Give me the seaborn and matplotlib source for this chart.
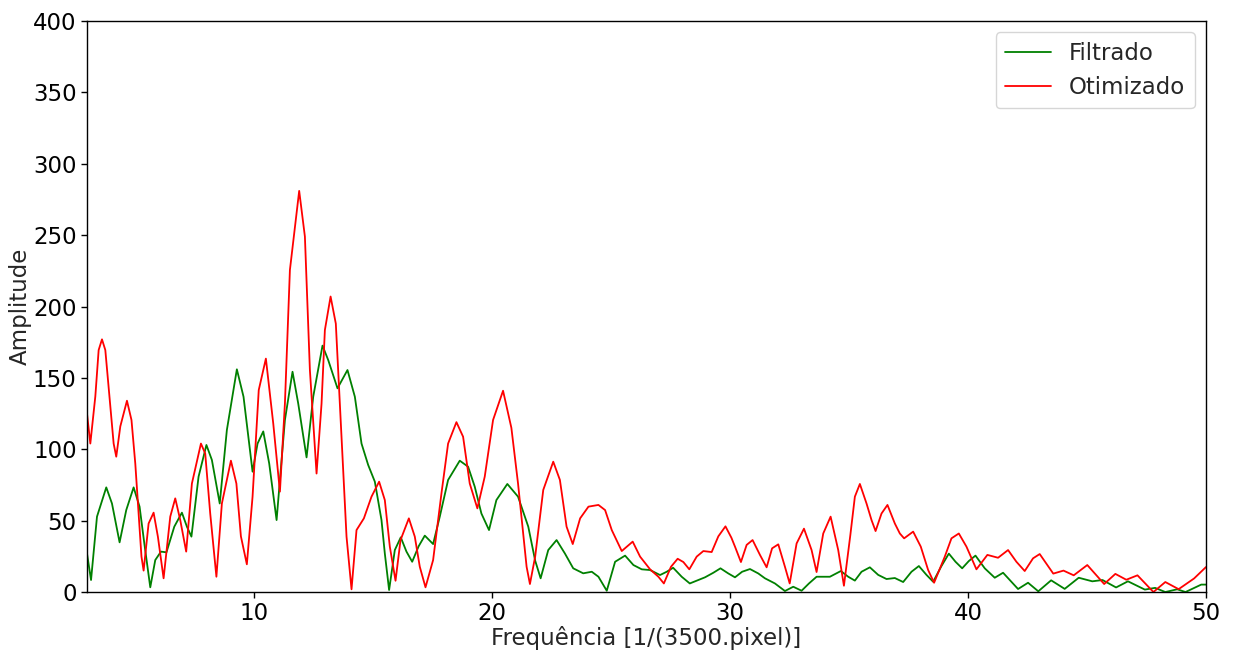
import matplotlib
matplotlib.use("Agg")
import matplotlib.pyplot as plt
import seaborn as sns
import pandas as pd

filt_x = [2.96, 3.13, 3.38, 3.77, 4.01, 4.33, 4.61, 4.92, 5.17, 5.37, 5.62, 5.83, 6.07, 6.3, 6.63,
          6.95, 7.16, 7.35, 7.65, 7.98, 8.21, 8.54, 8.84, 9.26, 9.54, 9.92, 10.13, 10.37, 10.62,
          10.93, 11.28, 11.6, 11.84, 12.19, 12.47, 12.86, 13.1, 13.49, 13.91, 14.22, 14.5, 14.78,
          15.06, 15.34, 15.48, 15.66, 15.9, 16.15, 16.39, 16.63, 16.9, 17.16, 17.51, 17.79, 18.14,
          18.63, 18.98, 19.26, 19.54, 19.86, 20.17, 20.63, 21.08, 21.51, 21.8, 22.03, 22.35, 22.7,
          23.05, 23.4, 23.82, 24.18, 24.46, 24.81, 25.16, 25.58, 25.93, 26.28, 26.63, 27.05, 27.33,
          27.6, 27.96, 28.3, 28.94, 29.29, 29.59, 29.92, 30.2, 30.5, 30.83, 31.18, 31.46, 31.88,
          32.3, 32.65, 33.0, 33.31, 33.63, 34.19, 34.65, 34.96, 35.24, 35.52, 35.87, 36.22, 36.57,
          36.92, 37.27, 37.62, 37.93, 38.25, 38.53, 38.88, 39.19, 39.47, 39.75, 40.03, 40.31, 40.7,
          41.12, 41.47, 42.1, 42.52, 42.95, 43.49, 44.06, 44.65, 45.22, 45.65, 46.22, 46.72, 47.43,
          47.86, 48.29, 48.79, 49.14, 49.8, 50.0]
filt_y = [27, 8.4, 52.8, 73.3, 62, 34.8, 57.4, 73.3, 59.8, 34, 3.3, 22.4, 28.3, 27.8, 45.8,
          55.6, 45.8, 38.8, 80.8, 103, 92.5, 62, 113.5, 156, 136.8, 84.3, 104, 112.5, 90,
          50.4, 120.5, 154.3, 132, 94.3, 136.8, 172.6, 162.5, 142.7, 155.5, 136.8, 104, 89,
          77.3, 50.4, 27, 1.4, 29.4, 38.3, 28.3, 21.2, 32, 39.5, 33.6, 52.8, 78.5,
          92, 87.8, 73.8, 55, 43.4, 64.4, 75.7, 66.8, 45.8, 22, 9.6, 29.4, 36.4,
          27, 16.6, 13.1, 14.2, 10.7, 0.9, 21.2, 25.5, 18.9, 15.9, 15.4, 11.9, 14.2,
          17, 10.7, 6, 10.3, 13.5, 16.6, 13, 10.3, 14.2, 16.1, 13, 9.6, 6,
          0.7, 3.7, 0.9, 6, 10.7, 10.7, 14.7, 10.7, 8, 14.2, 17.3, 12, 9.1,
          9.8, 7, 14.2, 18.2, 12, 7.2, 18.2, 26.9, 21.2, 16.6, 21.7, 25.5, 16.6,
          10, 13.5, 2.1, 6.5, 0.5, 8.2, 2.2, 10, 7.5, 8.4, 3.2, 7.5, 1.7,
          2.9, 0, 1.9, 0, 5.2, 5.2]

otim_x = [2.96, 3.1, 3.31, 3.45, 3.59, 3.73, 3.94, 4.08, 4.19, 4.36, 4.64, 4.83, 4.99, 5.13, 5.25,
          5.34, 5.55, 5.76, 5.94, 6.18, 6.46, 6.67, 6.88, 7.13, 7.37, 7.75, 7.93, 8.14, 8.40,
          8.63, 9.01, 9.24, 9.43, 9.68, 9.92, 10.18, 10.48, 10.79, 11.07, 11.28, 11.49, 11.88,
          12.12, 12.33, 12.61, 12.82, 12.96, 13.2, 13.42, 13.66, 13.87, 14.08, 14.29, 14.6, 14.92,
          15.24, 15.48, 15.69, 15.93, 16.14, 16.49, 16.74, 16.95, 17.19, 17.51, 17.86, 18.14, 18.49,
          18.77, 19.05, 19.37, 19.68, 20.03, 20.45, 20.8, 21.08, 21.44, 21.58, 21.8, 22.14, 22.56,
          22.84, 23.12, 23.38, 23.69, 24.04, 24.46, 24.74, 25.02, 25.44, 25.9, 26.21, 26.63, 26.98,
          27.21, 27.51, 27.79, 28.03, 28.28, 28.59, 28.87, 29.22, 29.5, 29.8, 30.05, 30.2,
          30.45, 30.69, 30.94, 31.25, 31.53, 31.76, 32.02, 32.3, 32.5, 32.79, 33.1, 33.42, 33.63,
          33.91, 34.22, 34.54, 34.78, 35.05, 35.24, 35.45, 35.73, 35.94, 36.11, 36.36, 36.61, 36.92,
          37.13, 37.31, 37.69, 38.01, 38.32, 38.57, 39.02, 39.3, 39.61, 39.93, 40.35, 40.81, 41.26,
          41.68, 42.03, 42.38, 42.73, 43.01, 43.58, 44.01, 44.44, 45.01, 45.72, 46.19, 46.65, 47.12,
          47.79, 48.29, 48.85, 49.5, 50.0]
otim_y = [125, 104, 137, 169.5, 177, 169.5, 130, 104, 94.8, 116, 134, 120.5, 90, 55, 24.8,
          15, 48, 55.6, 38.8, 9.6, 52.8, 65.6, 50.4, 28.3, 76, 104, 97, 55, 10.7,
          62, 92, 76, 39, 19.4, 66.8, 141.5, 163.5, 118, 70.3, 132, 225.6, 281,
          249, 155.5, 83, 132, 183.5, 207, 188, 108.8, 38.8, 1.9, 43.4, 51.6, 66.8,
          77.3, 64.4, 31.8, 7.9, 36.4, 51.6, 38.8, 17.7, 3.3, 22.4, 69, 104, 119,
          108.8, 76, 58.6, 80.8, 120.5, 141, 115, 76, 17.7, 5.6, 24.8, 71.5, 91.3,
          78.5, 45.8, 33.6, 51.6, 59.8, 61, 57.4, 43.4, 28.7, 35.3, 24.8, 15.9, 10.7,
          6, 17.7, 23.3, 21, 15.9, 24.8, 28.7, 28, 39, 46, 38, 31.8,
          21, 33, 36.4, 26, 17.3, 30.6, 33.4, 17.7, 6, 34, 44.4, 29.4, 14,
          41, 52.8, 29.4, 4.4, 40, 66.8, 75.7, 62, 50.4, 42.7, 55, 61, 48,
          41, 37.6, 42.3, 31.8, 15.4, 6.5, 24.8, 37.6, 41, 31.8, 15.9, 26, 24,
          29.4, 21.2, 14.7, 23.6, 26.6, 12.9, 15, 11.7, 18.9, 5.6, 12.7, 8.6, 11.7,
          0, 7, 2, 9.5, 17.5]

series_names = ["Filtrado", "Otimizado"]
series_colors = ["green", "red"]

sns.set_style("ticks")
plt.rcParams["font.family"] = ["DejaVu Sans"]

fig = plt.figure(figsize=(12.34, 6.5), dpi=100)
ax = fig.add_axes([0.0705, 0.0892, 0.9068, 0.8785])

df_f = pd.DataFrame({"x": filt_x, "y": filt_y})
df_o = pd.DataFrame({"x": otim_x, "y": otim_y})
sns.lineplot(data=df_f, x="x", y="y", ax=ax, color=series_colors[0], label=series_names[0],
             linewidth=1.3, estimator=None)
sns.lineplot(data=df_o, x="x", y="y", ax=ax, color=series_colors[1], label=series_names[1],
             linewidth=1.3, estimator=None)

ax.set_xlim(2.96, 50)
ax.set_ylim(0, 400)
ax.set_xticks([10, 20, 30, 40, 50])
ax.set_yticks(list(range(0, 401, 50)))
ax.tick_params(labelsize=16.5, colors="black", length=4, width=1)
for s in ax.spines.values():
    s.set_color("black")
    s.set_linewidth(1.0)
ax.set_xlabel("Frequência [1/(3500.pixel)]", fontsize=16.5, labelpad=0.5)
ax.set_ylabel("Amplitude", fontsize=16.5, labelpad=1)
leg = ax.legend(loc="upper right", fontsize=16.5, frameon=True, fancybox=True, framealpha=0.8,
                handlelength=2.0)
leg.get_frame().set_edgecolor("#cccccc")

fig.savefig("out.png", dpi=100)
